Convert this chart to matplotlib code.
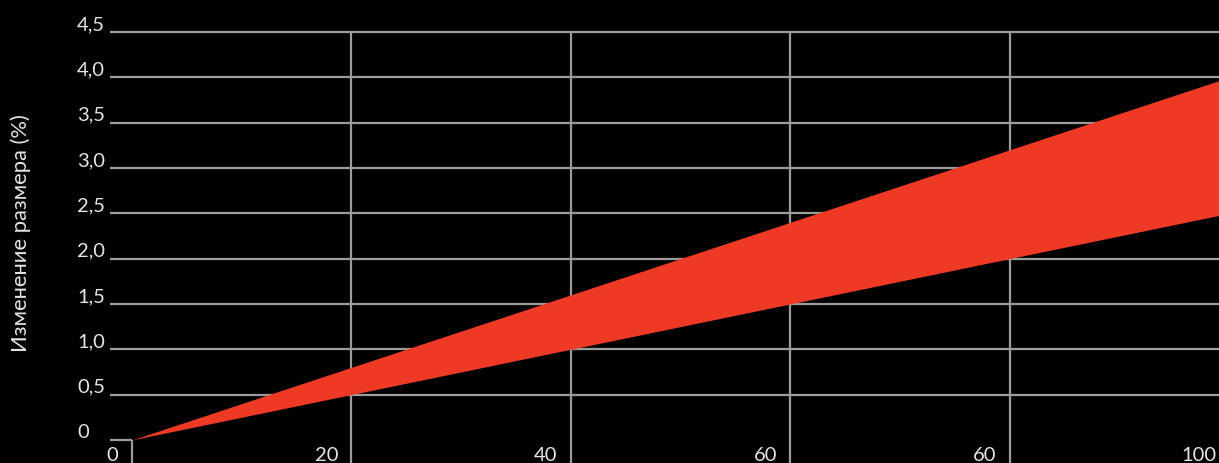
import matplotlib
matplotlib.use("Agg")
import matplotlib.pyplot as plt
import matplotlib.transforms as mtransforms

# ---- data ----
x_vals = [0, 100]
lower_vals = [0.0, 2.5]
upper_vals = [0.0, 4.0]
x_ticks = [0, 20, 40, 60, 80, 100]
x_tick_labels = ["0", "20", "40", "60", "60", "100"]
y_ticks = [0.5, 1.0, 1.5, 2.0, 2.5, 3.0, 3.5, 4.0, 4.5]
y_tick_labels = ["0,5", "1,0", "1,5", "2,0", "2,5", "3,0", "3,5", "4,0", "4,5"]
y_label = "Изменение размера (%)"

# ---- style ----
BG = "#000000"
GRID = "#9b9b9b"
RED = "#EE3A24"
TXT = "#e4e4e4"
FAM = ["Lato", "Noto Sans", "DejaVu Sans"]

W, H = 1219, 463
fig = plt.figure(figsize=(W / 100, H / 100), dpi=100, facecolor=BG)
ax = fig.add_axes([0, 0, 1, 1])
ax.set_facecolor(BG)
for s in ax.spines.values():
    s.set_visible(False)
ax.set_xticks([])
ax.set_yticks([])

# pixel mapping
px_per_x = 219.5 / 20
px_per_y = 90.67
x0_px = 131.5
y0_px_top = 440.0
xmin = -x0_px / px_per_x
xmax = (W - x0_px) / px_per_x
ymin = -(H - y0_px_top) / px_per_y
ymax = y0_px_top / px_per_y
ax.set_xlim(xmin, xmax)
ax.set_ylim(ymin, ymax)

grid_left = (110 - x0_px) / px_per_x
lw = 1.6

for yv in y_ticks:
    ax.hlines(yv, grid_left, xmax + 5, color=GRID, lw=lw, zorder=1)
ax.hlines(0, grid_left, 0, color=GRID, lw=lw, zorder=1)
for xv in x_ticks[1:]:
    ax.vlines(xv, ymin - 1, y_ticks[-1], color=GRID, lw=lw, zorder=1)
ax.vlines(0, ymin - 1, 0, color=GRID, lw=lw, zorder=1)

ax.fill_between(x_vals, lower_vals, upper_vals, color=RED, lw=0, zorder=2)

fs = 14.5
ytrans = mtransforms.blended_transform_factory(fig.transFigure, ax.transData)
for yv, lab in zip([0.0] + y_ticks, ["0"] + y_tick_labels):
    ax.text(77 / W, yv, lab, transform=mtransforms.offset_copy(ytrans, fig=fig, x=0, y=2, units="dots"),
            ha="left", va="baseline", color=TXT, fontsize=fs, family=FAM)

xtrans = mtransforms.blended_transform_factory(ax.transData, fig.transFigure)
for xv, lab in zip(x_ticks, x_tick_labels):
    ax.text(xv, (H - 461) / H, lab,
            transform=mtransforms.offset_copy(xtrans, fig=fig, x=-13, y=0, units="dots"),
            ha="right", va="baseline", color=TXT, fontsize=fs, family=FAM)

yl = fig.text(21 / W, 1 - 233 / H, y_label, rotation=90, ha="center", va="center",
              color=TXT, fontsize=14, family=FAM)
# fit label length to ~240 px
r = fig.canvas.get_renderer()
ext = yl.get_window_extent(r)
yl.set_fontsize(14 * 240 / ext.height)

fig.savefig("out.png", dpi=100, facecolor=BG)
